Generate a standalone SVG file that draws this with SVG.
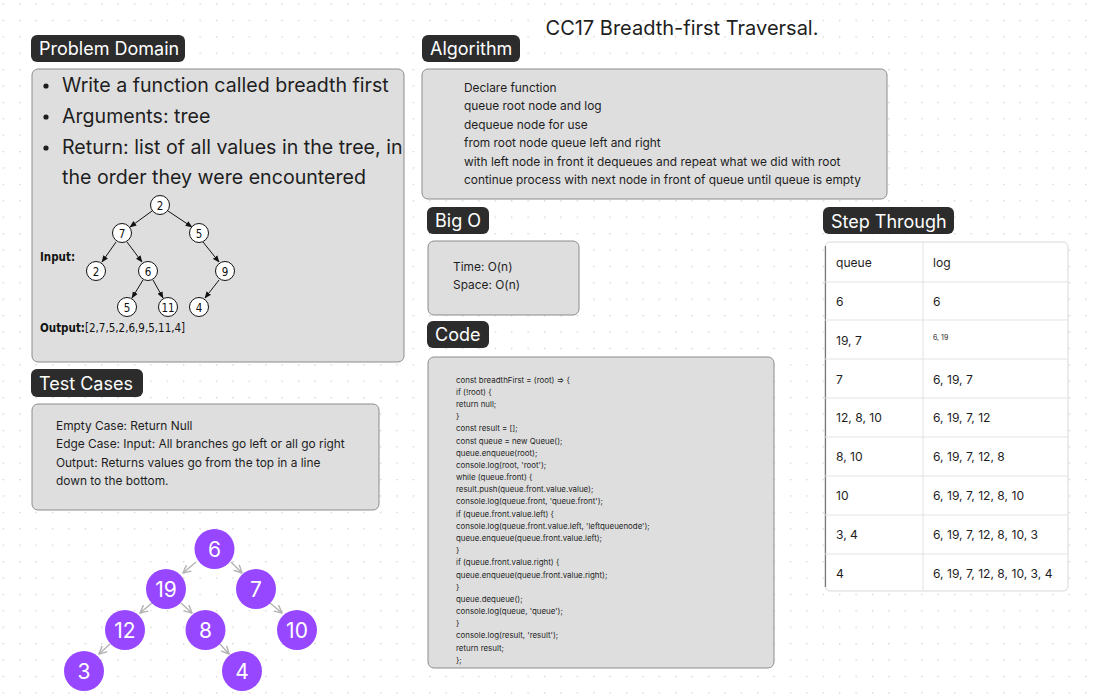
<svg xmlns="http://www.w3.org/2000/svg" width="1096" height="697" viewBox="0 0 1096 697">
<defs>
<pattern id="grid" x="2.7" y="3.4" width="16.4" height="16.4" patternUnits="userSpaceOnUse">
<rect x="0" y="0" width="1.3" height="1.3" fill="#cfcfcf"/>
</pattern>
<marker id="blk" viewBox="0 0 10 10" refX="9" refY="5" markerWidth="7" markerHeight="7" orient="auto" markerUnits="userSpaceOnUse">
<path d="M0,1 L10,5 L0,9 Z" fill="#111"/>
</marker>
<marker id="gry" viewBox="0 0 10 10" refX="9" refY="5" markerWidth="9" markerHeight="9" orient="auto" markerUnits="userSpaceOnUse">
<path d="M1,1 L9,5 L1,9" fill="none" stroke="#b3b3b3" stroke-width="1.6" stroke-linecap="round" stroke-linejoin="round"/>
</marker>
</defs>
<style>
.lbl rect{fill:#2c2c2c}
.lbl text{fill:#fff;font-family:Inter,"Liberation Sans",sans-serif;font-size:18px}
.box{fill:#dedede;stroke:#8c8c8c;stroke-width:1}
.t{font-family:Inter,"Liberation Sans",sans-serif;fill:#1e1e1e}
.s13{font-size:11.9px}
.code{font-family:Inter,"Liberation Sans",sans-serif;font-size:7.9px;fill:#1e1e1e}
.tn circle{fill:#fff;stroke:#111;stroke-width:1}
.tn text{font-family:"DejaVu Sans Condensed","DejaVu Sans",sans-serif;font-size:11.5px;fill:#111;text-anchor:middle}
.dv{font-family:"DejaVu Sans Condensed","DejaVu Sans",sans-serif;font-size:11.5px;fill:#111}
.pn circle{fill:#9747ff}
.pn text{font-family:Inter,"Liberation Sans",sans-serif;font-size:21px;fill:#fff;text-anchor:middle}
.cell{font-family:Inter,"Liberation Sans",sans-serif;font-size:12.1px;fill:#1e1e1e}
.ln{stroke:#e3e3e3;stroke-width:1}
</style>
<rect width="1096" height="697" fill="#ffffff"/>
<rect width="1096" height="697" fill="url(#grid)"/>

<text x="682" y="35" class="t" font-size="20" text-anchor="middle">CC17 Breadth-first Traversal.</text>

<!-- Problem Domain -->
<g id="problem-domain">
<g class="lbl"><rect x="31" y="35" width="154" height="27" rx="6"/><text x="39" y="55">Problem Domain</text></g>
<rect class="box" x="32" y="69" width="372" height="293" rx="6"/>
<circle cx="46" cy="86" r="2.6" fill="#1e1e1e"/>
<circle cx="46" cy="117" r="2.6" fill="#1e1e1e"/>
<circle cx="46" cy="148" r="2.6" fill="#1e1e1e"/>
<text class="t" font-size="19.6" x="62" y="92">Write a function called breadth first</text>
<text class="t" font-size="19.6" x="62" y="123">Arguments: tree</text>
<text class="t" font-size="19.6" x="62" y="154">Return: list of all values in the tree, in</text>
<text class="t" font-size="19.6" x="62" y="184">the order they were encountered</text>
<text class="dv" x="40" y="261" font-weight="bold">Input:</text>
<text class="dv" x="40" y="332"><tspan font-weight="bold">Output:</tspan>[2,7,5,2,6,9,5,11,4]</text>
</g>

<g id="input-tree-edges" stroke="#111" stroke-width="1" fill="none">
<line x1="152" y1="211" x2="130" y2="227" marker-end="url(#blk)"/>
<line x1="168" y1="211" x2="192" y2="227" marker-end="url(#blk)"/>
<line x1="116" y1="242" x2="102" y2="262" marker-end="url(#blk)"/>
<line x1="127" y1="242" x2="142" y2="262" marker-end="url(#blk)"/>
<line x1="203" y1="242" x2="219" y2="262" marker-end="url(#blk)"/>
<line x1="143" y1="280" x2="132" y2="298" marker-end="url(#blk)"/>
<line x1="153" y1="280" x2="163" y2="298" marker-end="url(#blk)"/>
<line x1="219" y1="280" x2="205" y2="298" marker-end="url(#blk)"/>
</g>
<g id="input-tree-nodes">
<g class="tn"><circle cx="160" cy="205" r="9.5"/><text x="160" y="209.5">2</text></g>
<g class="tn"><circle cx="122" cy="233" r="9.5"/><text x="122" y="237.5">7</text></g>
<g class="tn"><circle cx="199" cy="233" r="9.5"/><text x="199" y="237.5">5</text></g>
<g class="tn"><circle cx="96" cy="271" r="9.5"/><text x="96" y="275.5">2</text></g>
<g class="tn"><circle cx="148" cy="271" r="9.5"/><text x="148" y="275.5">6</text></g>
<g class="tn"><circle cx="225" cy="271" r="9.5"/><text x="225" y="275.5">9</text></g>
<g class="tn"><circle cx="127" cy="307" r="9.5"/><text x="127" y="311.5">5</text></g>
<g class="tn"><circle cx="168" cy="307" r="9.5"/><text x="168" y="311.5">11</text></g>
<g class="tn"><circle cx="199" cy="307" r="9.5"/><text x="199" y="311.5">4</text></g>
</g>

<!-- Test Cases -->
<g id="test-cases">
<g class="lbl"><rect x="31" y="369" width="112" height="28" rx="6"/><text x="39" y="390">Test Cases</text></g>
<rect class="box" x="32" y="404" width="347" height="106" rx="6"/>
<text class="t s13" x="56" y="430">Empty Case: Return Null</text>
<text class="t s13" x="56" y="448">Edge Case: Input: All branches go left or all go right</text>
<text class="t s13" x="56" y="467">Output: Returns values go from the top in a line</text>
<text class="t s13" x="56" y="485">down to the bottom.</text>
</g>

<!-- Algorithm -->
<g id="algorithm">
<g class="lbl"><rect x="422" y="35" width="98" height="27" rx="6"/><text x="430" y="55">Algorithm</text></g>
<rect class="box" x="422" y="69" width="465" height="130" rx="6"/>
<text class="t s13" x="464" y="92">Declare function</text>
<text class="t s13" x="464" y="110">queue root node and log</text>
<text class="t s13" x="464" y="129">dequeue node for use</text>
<text class="t s13" x="464" y="147">from root node queue left and right</text>
<text class="t s13" x="464" y="166">with left node in front it dequeues and repeat what we did with root</text>
<text class="t s13" x="464" y="184">continue process with next node in front of queue until queue is empty</text>
</g>

<!-- Big O -->
<g id="big-o">
<g class="lbl"><rect x="427" y="207" width="62" height="27" rx="6"/><text x="435" y="227">Big O</text></g>
<rect class="box" x="428" y="241" width="151" height="74" rx="6"/>
<text class="t s13" x="453" y="271">Time: O(n)</text>
<text class="t s13" x="453" y="289">Space: O(n)</text>
</g>

<!-- Code -->
<g id="code">
<g class="lbl"><rect x="427" y="321" width="62" height="27" rx="6"/><text x="435" y="341">Code</text></g>
<rect class="box" x="428" y="357" width="346" height="311" rx="6"/>
<text class="code" x="456" y="383">const breadthFirst = (root) ⇒ {</text>
<text class="code" x="456" y="395">if (!root) {</text>
<text class="code" x="456" y="407">return null;</text>
<text class="code" x="456" y="419">}</text>
<text class="code" x="456" y="431">const result = [];</text>
<text class="code" x="456" y="444">const queue = new Queue();</text>
<text class="code" x="456" y="456">queue.enqueue(root);</text>
<text class="code" x="456" y="468">console.log(root, 'root');</text>
<text class="code" x="456" y="480">while (queue.front) {</text>
<text class="code" x="456" y="492">result.push(queue.front.value.value);</text>
<text class="code" x="456" y="504">console.log(queue.front, 'queue.front');</text>
<text class="code" x="456" y="517">if (queue.front.value.left) {</text>
<text class="code" x="456" y="529">console.log(queue.front.value.left, 'leftqueuenode');</text>
<text class="code" x="456" y="541">queue.enqueue(queue.front.value.left);</text>
<text class="code" x="456" y="553">}</text>
<text class="code" x="456" y="565">if (queue.front.value.right) {</text>
<text class="code" x="456" y="578">queue.enqueue(queue.front.value.right);</text>
<text class="code" x="456" y="590">}</text>
<text class="code" x="456" y="602">queue.dequeue();</text>
<text class="code" x="456" y="614">console.log(queue, 'queue');</text>
<text class="code" x="456" y="626">}</text>
<text class="code" x="456" y="638">console.log(result, 'result');</text>
<text class="code" x="456" y="651">return result;</text>
<text class="code" x="456" y="663">};</text>
</g>

<!-- Step Through -->
<g id="step-through">
<g class="lbl"><rect x="823" y="207" width="131" height="27" rx="6"/><text x="831" y="228">Step Through</text></g>
<rect x="825" y="242" width="243" height="349" rx="5" fill="#ffffff" stroke="#d9d9d9"/>
<line x1="825.5" y1="246" x2="825.5" y2="587" stroke="#777" stroke-width="1.2"/>
<line class="ln" x1="923" y1="242" x2="923" y2="591"/>
<line class="ln" x1="825" y1="282" x2="1068" y2="282"/>
<line class="ln" x1="825" y1="320" x2="1068" y2="320"/>
<line class="ln" x1="825" y1="359" x2="1068" y2="359"/>
<line class="ln" x1="825" y1="398" x2="1068" y2="398"/>
<line class="ln" x1="825" y1="437" x2="1068" y2="437"/>
<line class="ln" x1="825" y1="476" x2="1068" y2="476"/>
<line class="ln" x1="825" y1="515" x2="1068" y2="515"/>
<line class="ln" x1="825" y1="554" x2="1068" y2="554"/>
<text class="cell" x="836" y="267">queue</text><text class="cell" x="933" y="267">log</text>
<text class="cell" x="836" y="306">6</text><text class="cell" x="933" y="306">6</text>
<text class="cell" x="836" y="345">19, 7</text><text class="cell" x="933" y="340" style="font-size:7px">6, 19</text>
<text class="cell" x="836" y="384">7</text><text class="cell" x="933" y="384">6, 19, 7</text>
<text class="cell" x="836" y="422">12, 8, 10</text><text class="cell" x="933" y="422">6, 19, 7, 12</text>
<text class="cell" x="836" y="461">8, 10</text><text class="cell" x="933" y="461">6, 19, 7, 12, 8</text>
<text class="cell" x="836" y="500">10</text><text class="cell" x="933" y="500">6, 19, 7, 12, 8, 10</text>
<text class="cell" x="836" y="539">3, 4</text><text class="cell" x="933" y="539">6, 19, 7, 12, 8, 10, 3</text>
<text class="cell" x="836" y="578">4</text><text class="cell" x="933" y="578">6, 19, 7, 12, 8, 10, 3, 4</text>
</g>

<!-- Purple tree connectors -->
<g id="connectors" stroke="#b3b3b3" stroke-width="1.4" fill="none">
<line x1="196" y1="562" x2="183" y2="573" marker-end="url(#gry)"/>
<line x1="231" y1="562" x2="242" y2="573" marker-end="url(#gry)"/>
<line x1="152" y1="603" x2="140" y2="613" marker-end="url(#gry)"/>
<line x1="181" y1="603" x2="192" y2="613" marker-end="url(#gry)"/>
<line x1="270" y1="603" x2="282" y2="613" marker-end="url(#gry)"/>
<line x1="110" y1="644" x2="99" y2="654" marker-end="url(#gry)"/>
<line x1="220" y1="644" x2="229" y2="654" marker-end="url(#gry)"/>
</g>
<g id="node-6" class="pn"><circle cx="214.5" cy="549" r="20"/><text x="214.5" y="557">6</text></g>
<g id="node-19" class="pn"><circle cx="166" cy="589" r="20"/><text x="166" y="597">19</text></g>
<g id="node-7" class="pn"><circle cx="256" cy="589" r="20"/><text x="256" y="597">7</text></g>
<g id="node-12" class="pn"><circle cx="125" cy="630" r="20"/><text x="125" y="638">12</text></g>
<g id="node-8" class="pn"><circle cx="205.5" cy="630" r="20"/><text x="205.5" y="638">8</text></g>
<g id="node-10" class="pn"><circle cx="297" cy="630" r="20"/><text x="297" y="638">10</text></g>
<g id="node-3" class="pn"><circle cx="84" cy="671" r="20"/><text x="84" y="679">3</text></g>
<g id="node-4" class="pn"><circle cx="242" cy="671" r="20"/><text x="242" y="679">4</text></g>
</svg>
